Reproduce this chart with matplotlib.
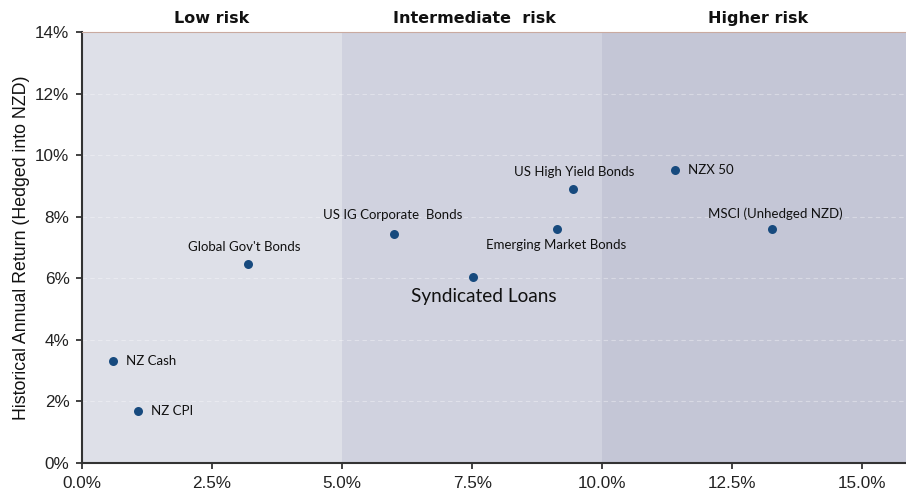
import matplotlib
matplotlib.use("Agg")
import matplotlib.pyplot as plt
from matplotlib.ticker import FuncFormatter, MultipleLocator

names = ["NZ Cash", "NZ CPI", "Global Gov't Bonds", "US IG Corporate  Bonds",
         "Syndicated Loans", "Emerging Market Bonds", "US High Yield Bonds",
         "NZX 50", "MSCI (Unhedged NZD)"]
risk = [0.60, 1.08, 3.20, 6.00, 7.52, 9.13, 9.44, 11.40, 13.26]
ret = [3.30, 1.70, 6.45, 7.44, 6.04, 7.61, 8.91, 9.51, 7.59]

zones = ["Low risk", "Intermediate  risk", "Higher risk"]
zone_edges = [0, 5, 10, 15.84]
zone_colors = ["#dee0e8", "#d0d2df", "#c4c6d6"]

# label placement: (dx px, dy px, ha, va, fontsize)
label_pos = {
    "NZ Cash": (13, 0, "left", "center", 9.5),
    "NZ CPI": (13, 0, "left", "center", 9.5),
    "Global Gov't Bonds": (-4, 11, "center", "bottom", 9.5),
    "US IG Corporate  Bonds": (-1, 13, "center", "bottom", 9.5),
    "Syndicated Loans": (11, -11, "center", "top", 13.7),
    "Emerging Market Bonds": (-1, -10, "center", "top", 9.5),
    "US High Yield Bonds": (1, 11, "center", "bottom", 9.5),
    "NZX 50": (13, 0, "left", "center", 9.5),
    "MSCI (Unhedged NZD)": (4, 9, "center", "bottom", 9.5),
}

fig = plt.figure(figsize=(9.06, 4.92), dpi=100)
ax = fig.add_axes([82 / 906, 1 - 463 / 492, (906 - 82) / 906, (463 - 32) / 492])

zone_centers = [2.5, 7.55, 13.0]
for i in range(3):
    ax.axvspan(zone_edges[i], zone_edges[i + 1], color=zone_colors[i], zorder=0, lw=0)
    ax.text(zone_centers[i], 1.013, zones[i],
            transform=ax.get_xaxis_transform(), ha="center", va="bottom",
            fontsize=11.5, fontweight="bold", family="DejaVu Sans", color="#111111")

for yv in range(2, 14, 2):
    ax.axhline(yv, color="#ffffff", alpha=0.35, lw=0.8, ls=(0, (4, 3)), zorder=1)

ax.scatter(risk, ret, s=42, color="#174a7e", zorder=3, lw=0)

for n, x, y in zip(names, risk, ret):
    dx, dy, ha, va, fs = label_pos[n]
    ax.annotate(n, (x, y), xytext=(dx * 0.72, dy * 0.72), textcoords="offset points",
                ha=ha, va=va, fontsize=fs, family="Lato", color="#111111", zorder=4)

ax.set_xlim(0, 15.84)
ax.set_ylim(0, 14)
ax.xaxis.set_major_locator(MultipleLocator(2.5))
ax.yaxis.set_major_locator(MultipleLocator(2))
ax.xaxis.set_major_formatter(FuncFormatter(lambda v, p: f"{v:.1f}%"))
ax.yaxis.set_major_formatter(FuncFormatter(lambda v, p: f"{v:.0f}%"))
for lab in ax.get_xticklabels() + ax.get_yticklabels():
    lab.set_family("Liberation Sans")
ax.tick_params(axis="both", labelsize=12.3, colors="#222222", length=4, width=1.2, direction="out")
ax.tick_params(axis="x", pad=5)
ax.tick_params(axis="y", pad=5)
ax.set_ylabel("Historical Annual Return (Hedged into NZD)", fontsize=12.8,
              family="Liberation Sans", color="#111111", labelpad=4)

ax.spines["right"].set_visible(False)
ax.spines["top"].set_color("#c9aaa0")
ax.spines["top"].set_linewidth(0.8)
for s in ["left", "bottom"]:
    ax.spines[s].set_color("#333333")
    ax.spines[s].set_linewidth(1.5)

fig.savefig("out.png", dpi=100)
